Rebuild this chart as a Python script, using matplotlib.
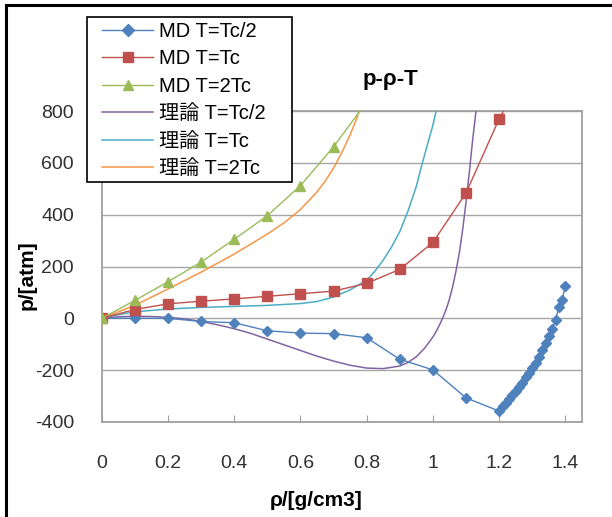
# p-rho-T chart: MD results vs theory
import matplotlib
matplotlib.use('Agg')
import matplotlib.pyplot as plt
from matplotlib.lines import Line2D
from matplotlib.patches import Rectangle

plt.rcParams['font.family'] = ['Liberation Sans', 'Noto Sans CJK JP', 'DejaVu Sans']
plt.rcParams['axes.unicode_minus'] = False

# MD T=Tc/2
md_half_x = [0.0, 0.1, 0.2, 0.3, 0.4, 0.5, 0.6, 0.7, 0.8, 0.9, 1.0, 1.1,
             1.20, 1.21, 1.22, 1.23, 1.24, 1.25, 1.26, 1.27, 1.28, 1.29, 1.30,
             1.31, 1.32, 1.33, 1.34, 1.35, 1.36, 1.37, 1.38, 1.39, 1.40]
md_half_y = [0, 0, 0, -12, -17, -48, -57, -59, -75, -158, -199, -307,
             -358, -340, -325, -310, -295, -280, -266, -248, -228, -210, -192,
             -172, -150, -122, -95, -68, -40, -5, 42, 72, 125]

# MD T=Tc
md_tc_x = [0.0, 0.1, 0.2, 0.3, 0.4, 0.5, 0.6, 0.7, 0.8, 0.9, 1.0, 1.1, 1.2, 1.3]
md_tc_y = [0, 34, 56, 66, 75, 85, 95, 105, 135, 189, 293, 484, 770, 1000]

# MD T=2Tc
md_2tc_x = [0.0, 0.1, 0.2, 0.3, 0.4, 0.5, 0.6, 0.7, 0.8]
md_2tc_y = [0, 69, 141, 217, 305, 396, 512, 662, 835]

# theory T=Tc/2
th_half_x = [0.0, 0.05, 0.1, 0.15, 0.2, 0.25, 0.3, 0.35, 0.4, 0.45, 0.5, 0.55,
             0.6, 0.65, 0.7, 0.75, 0.8, 0.85, 0.9, 0.925, 0.95, 0.975, 1.0,
             1.01, 1.02, 1.03, 1.04, 1.05, 1.06, 1.07, 1.08, 1.09, 1.1, 1.11,
             1.12, 1.13, 1.14]
th_half_y = [0, 6, 8, 7, 4, -2, -12, -25, -40, -58, -80, -102,
             -124, -146, -165, -181, -192, -194, -184, -170, -148, -115, -72,
             -50, -25, 3, 35, 75, 125, 185, 255, 345, 450, 565,
             690, 800, 910]

# theory T=Tc
th_tc_x = [0.0, 0.05, 0.1, 0.2, 0.3, 0.4, 0.5, 0.6, 0.65, 0.7, 0.75, 0.8,
           0.825, 0.85, 0.875, 0.9, 0.925, 0.95, 0.965, 0.98, 0.99, 1.0, 1.015]
th_tc_y = [0, 14, 25, 36, 42, 46, 50, 57, 65, 82, 110, 147,
           182, 225, 275, 335, 415, 510, 585, 655, 700, 746, 830]

# theory T=2Tc
th_2tc_x = [0.0, 0.1, 0.2, 0.3, 0.4, 0.5, 0.55, 0.6, 0.65, 0.675, 0.7, 0.725,
            0.75, 0.77, 0.79]
th_2tc_y = [0, 50, 113, 178, 248, 325, 368, 420, 488, 530, 580, 640,
            708, 772, 850]

labels = ['MD T=Tc/2', 'MD T=Tc', 'MD T=2Tc',
          '理論 T=Tc/2', '理論 T=Tc', '理論 T=2Tc']
x_ticks = [0, 0.2, 0.4, 0.6, 0.8, 1.0, 1.2, 1.4]
x_tick_labels = ['0', '0.2', '0.4', '0.6', '0.8', '1', '1.2', '1.4']
y_ticks = [-400, -200, 0, 200, 400, 600, 800]

fig = plt.figure(figsize=(6.12, 5.17), dpi=100)
ax = fig.add_axes([101.7 / 612, 1 - 422 / 517, (582 - 101.7) / 612, (422 - 111) / 517])

ax.plot(md_half_x, md_half_y, color='#4F81BD', lw=1.0, marker='D', ms=5.5,
        mec='#4F81BD', label=labels[0], zorder=5)
ax.plot(md_tc_x, md_tc_y, color='#C0504D', lw=1.0, marker='s', ms=6.5,
        mec='#C0504D', label=labels[1], zorder=5)
ax.plot(md_2tc_x, md_2tc_y, color='#9BBB59', lw=1.0, marker='^', ms=7.5,
        mec='#9BBB59', label=labels[2], zorder=5)
ax.plot(th_half_x, th_half_y, color='#8064A2', lw=1.1, label=labels[3], zorder=4)
ax.plot(th_tc_x, th_tc_y, color='#4BACC6', lw=1.1, label=labels[4], zorder=4)
ax.plot(th_2tc_x, th_2tc_y, color='#F79646', lw=1.1, label=labels[5], zorder=4)

ax.set_xlim(0, 1.45)
ax.set_ylim(-400, 800)
ax.set_xticks(x_ticks)
ax.set_xticklabels(x_tick_labels)
ax.set_yticks(y_ticks)
ax.yaxis.grid(True, color='#A6A6A6', lw=1.0)
ax.set_axisbelow(True)
for side in ax.spines.values():
    side.set_color('#A0A0A0')
    side.set_linewidth(1.3)
ax.tick_params(axis='x', direction='in', length=5, color='#A0A0A0',
               labelsize=14, pad=24, labelcolor='#303030')
ax.tick_params(axis='y', length=0, labelsize=14, pad=20, labelcolor='#303030')

fig.text(390 / 612, 1 - 80 / 517, 'p-ρ-T', fontsize=16, fontweight='bold',
         ha='center', va='center')
fig.text(316 / 612, 1 - 500 / 517, 'ρ/[g/cm3]', fontsize=15, fontweight='bold',
         ha='center', va='center')
fig.text(27 / 612, 1 - 275 / 517, 'p/[atm]', fontsize=15, fontweight='bold',
         ha='center', va='center', rotation=90)

# legend box drawn by hand, entries placed inside it
fig.add_artist(Rectangle((87 / 612, 1 - 182 / 517), 205 / 612, 165 / 517,
                         transform=fig.transFigure, facecolor='white',
                         edgecolor='black', lw=1.2, zorder=10))
leg = fig.legend(loc='upper left', bbox_to_anchor=(102 / 612, 1 - 22 / 517),
                 fontsize=14.5, frameon=False, handlelength=2.55,
                 handletextpad=0.3, labelspacing=0.42, borderpad=0,
                 borderaxespad=0)
leg.set_zorder(11)
for h in leg.legend_handles:
    h.set_markersize(6.5)

# outer chart frame (only top and left edges are inside the crop)
fig.add_artist(Line2D([5.5 / 612, 1], [1 - 4.5 / 517, 1 - 4.5 / 517],
                      color='black', lw=2.2, transform=fig.transFigure))
fig.add_artist(Line2D([5.5 / 612, 5.5 / 612], [0, 1 - 4.5 / 517],
                      color='black', lw=2.2, transform=fig.transFigure))

fig.savefig('out.png', dpi=100)
